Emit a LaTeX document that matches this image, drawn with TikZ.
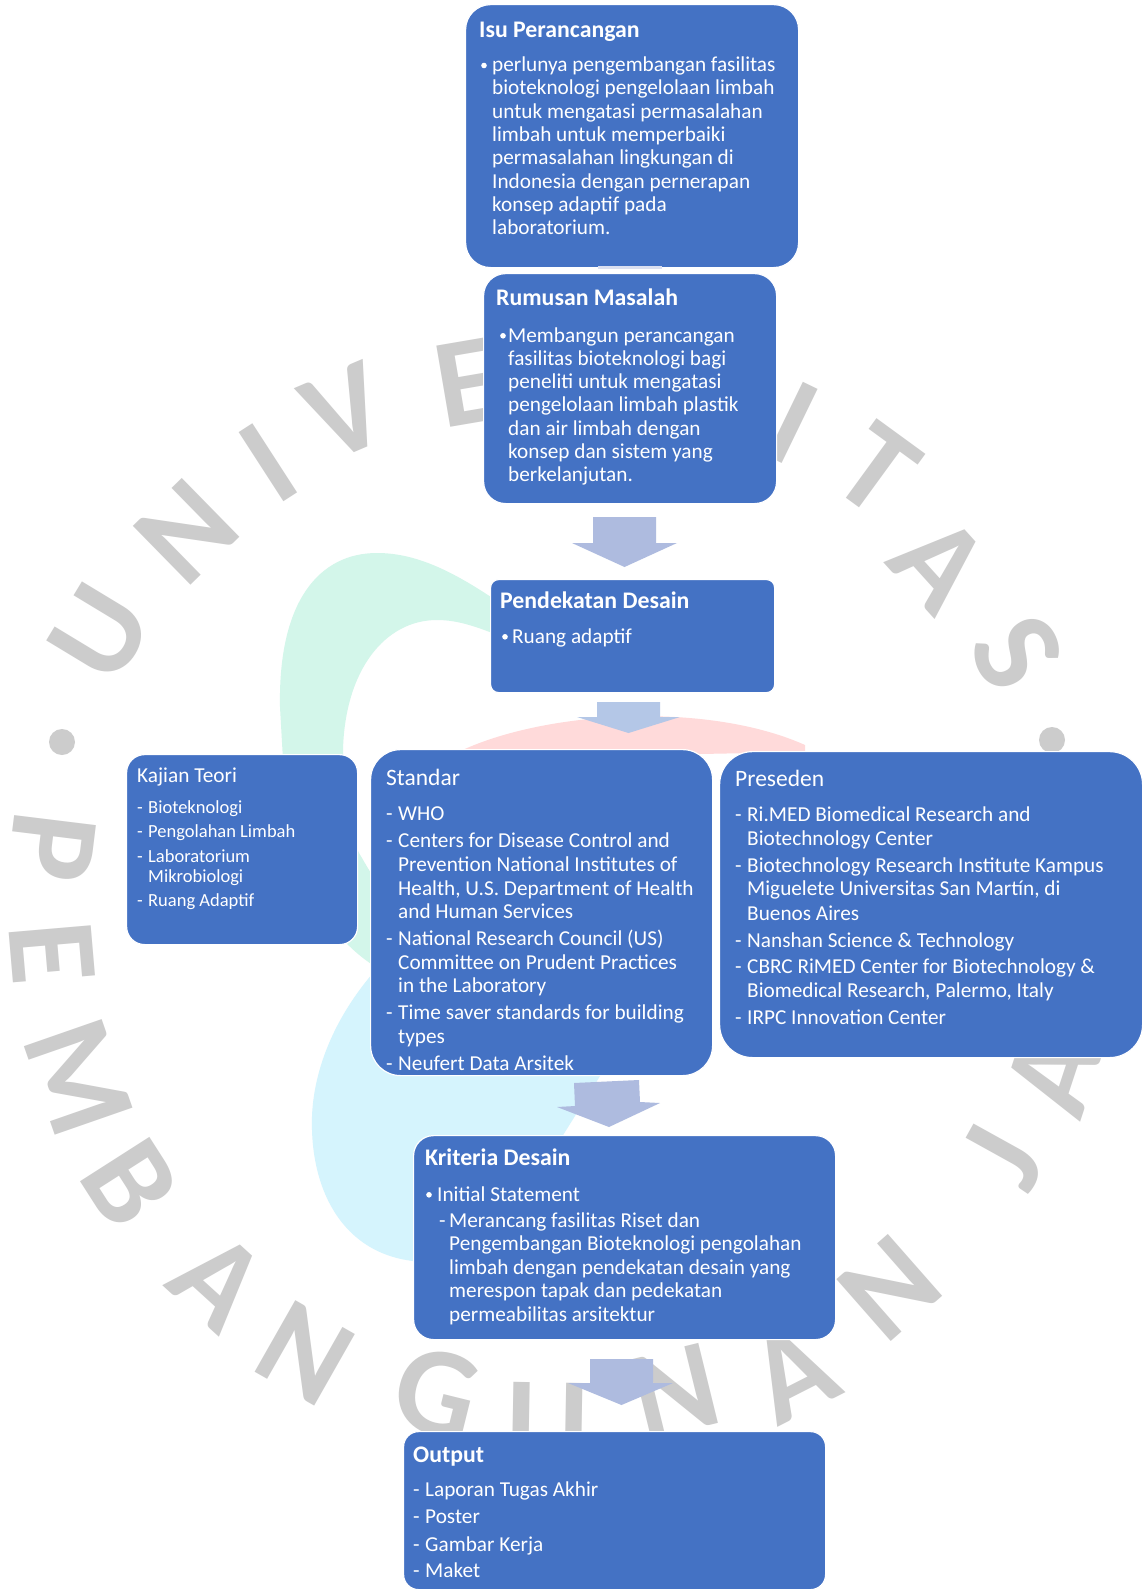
\documentclass[tikz,border=0pt]{standalone}
\usepackage{fontspec}
\setmainfont{Carlito}
\usetikzlibrary{calc}
\definecolor{boxblue}{HTML}{4472C4}
\definecolor{arrowA}{HTML}{AEBBDF}
\definecolor{arrowB}{HTML}{B4C7E7}
\definecolor{wmgray}{HTML}{CCCCCC}
\definecolor{mintc}{HTML}{D3F6EA}
\definecolor{pinkc}{HTML}{FFDADA}
\definecolor{cyanc}{HTML}{D5F4FD}
\begin{document}
\begin{tikzpicture}[x=1pt,y=-1pt,
  box/.style={fill=boxblue, draw=white, line width=1.2pt, anchor=north west, inner sep=0pt},
  ttl/.style={text=white, anchor=base west, inner sep=0pt, font=\fontsize{23.8}{28}\selectfont\bfseries},
  ttlr/.style={text=white, anchor=base west, inner sep=0pt, font=\fontsize{23.5}{28}\selectfont},
  txt/.style={text=white, anchor=base west, inner sep=0pt, font=\fontsize{21.25}{25}\selectfont},
  stxt/.style={text=white, anchor=base west, inner sep=0pt, font=\fontsize{18.5}{22}\selectfont},
  sttl/.style={text=white, anchor=base west, inner sep=0pt, font=\fontsize{21.3}{25}\selectfont},
  bul/.style={fill=white},
  wm/.style={text=wmgray, inner sep=0pt, font=\fontsize{127}{127}\selectfont\bfseries}
]
\useasboundingbox (0,0) rectangle (1144,1595);
\fill[white] (0,0) rectangle (1144,1595);

% ---------- watermark logo ----------
\fill[mintc] (283,760) -- (280,707) .. controls (278,600) and (320,553) .. (377,553)
  .. controls (420,553) and (460,575) .. (510,610) -- (510,640)
  .. controls (480,628) and (460,620) .. (437,620)
  .. controls (385,620) and (345,670) .. (343,750)
  .. controls (343,800) and (350,840) .. (362,858)
  .. controls (380,890) and (410,930) .. (430,960)
  -- (390,975) .. controls (320,940) and (285,860) .. (283,760) -- cycle;
\fill[pinkc] (440,762) .. controls (520,712) and (700,698) .. (805,745) -- (805,752) -- (700,754) -- (440,762) -- cycle;
\fill[cyanc] (380,965) .. controls (330,1020) and (310,1080) .. (312,1130)
  .. controls (314,1200) and (350,1262) .. (430,1262) -- (520,1250) -- (560,1140) -- (600,1076) -- (480,1076) -- cycle;

% ---------- watermark letters ----------
\node[wm, rotate=58.8] (wU) at (100,633) {U};
\node[wm, rotate=44.4] (wN) at (187,532) {N};
\node[wm, rotate=32.9] (wI) at (268,463) {I};
\node[wm, rotate=23.1] (wV) at (345,412) {V};
\node[wm, rotate=9.7] (wE) at (467,383) {E};
\node[wm, rotate=-25.9] (wI2) at (793,423) {I};
\node[wm, rotate=-36.1] (wT) at (877,470) {T};
\node[wm, rotate=-47.9] (wA) at (940,563) {A};
\node[wm, rotate=-60.9] (wS2) at (1017,653) {S};
\fill[wmgray] (62,742) circle (13pt);
\fill[wmgray] (1052,740) circle (13pt);
\node[wm, rotate=263] (wP) at (52,847) {P};
\node[wm, rotate=274.9] (wE2) at (52,953) {E};
\node[wm, rotate=289.2] (wM) at (79,1077) {M};
\node[wm, rotate=302.6] (wB) at (130,1183) {B};
\node[wm, rotate=317.7] (wA2) at (219,1281) {A};
\node[wm, rotate=330.4] (wN2) at (305,1353) {N};
\node[wm, rotate=346.1] (wG) at (437,1393) {G};
\node[wm, rotate=359] (wU2) at (548,1424) {U};
\node[wm, rotate=13.8] (wN3) at (675,1392) {N};
\node[wm, rotate=27] (wA3) at (793,1373) {A};
\node[wm, rotate=41.3] (wN4) at (890,1288) {N};
\node[wm, rotate=61] (wJ) at (1003,1157) {J};
\node[wm, rotate=71.8] (wA4) at (1053,1073) {A};

% ---------- boxes ----------
\node[box, rounded corners=25pt, minimum width=333pt, minimum height=263pt] (isu) at (465,4) {};
\node[box, rounded corners=22pt, minimum width=293pt, minimum height=230pt] (rum) at (483,273) {};
\node[box, rounded corners=8pt, minimum width=284pt, minimum height=113pt] (pend) at (490,579) {};
\node[box, rounded corners=18pt, minimum width=231pt, minimum height=190pt] (kaj) at (126,754) {};
\node[box, rounded corners=30pt, minimum width=342pt, minimum height=326pt] (std) at (370,749) {};
\node[box, rounded corners=33pt, minimum width=423pt, minimum height=306pt] (pre) at (719,751) {};
\node[box, rounded corners=20pt, minimum width=422pt, minimum height=204pt] (kri) at (413,1135) {};
\node[box, rounded corners=15pt, minimum width=422pt, minimum height=158pt] (out) at (403,1431) {};

% ---------- block arrows ----------
\fill[arrowA!45] (598,266) rectangle (662,269);
\fill[arrowA] (593,517) -- (656,517) -- (656,543) -- (677,543) -- (624.5,567) -- (572,543) -- (593,543) -- cycle;
\fill[arrowB] (597,702) -- (660,702) -- (660,717) -- (680,717) -- (628.5,733) -- (577,717) -- (597,717) -- cycle;
\fill[arrowA] (574,1083) -- (639,1080) -- (640,1102) -- (660,1103) -- (609,1127) -- (557,1107) -- (575,1106) -- cycle;
\fill[arrowA] (590,1359) -- (653,1359) -- (653,1383) -- (673,1383) -- (621.5,1405) -- (568,1383) -- (590,1383) -- cycle;

% ---------- Isu Perancangan ----------
\node[ttl] (isuT) at (479,38) {Isu Perancangan};
\fill[bul] (484,65.5) circle (2.8pt);
\foreach \lin [count=\i from 0] in {perlunya pengembangan fasilitas, bioteknologi pengelolaan limbah, untuk mengatasi permasalahan, limbah untuk memperbaiki, permasalahan lingkungan di, Indonesia dengan pernerapan, konsep adaptif pada, laboratorium.}
  \node[txt] (isu-\i) at (492,71.7+23.3*\i) {\lin};

% ---------- Rumusan Masalah ----------
\node[ttl] (rumT) at (496,305) {Rumusan Masalah};
\fill[bul] (503,335.8) circle (2.8pt);
\foreach \lin [count=\i from 0] in {Membangun perancangan, fasilitas bioteknologi bagi, peneliti untuk mengatasi, pengelolaan limbah plastik, dan air limbah dengan, konsep dan sistem yang, berkelanjutan.}
  \node[txt] (rum-\i) at (508,342+23.3*\i) {\lin};

% ---------- Pendekatan Desain ----------
\node[ttl] (pendT) at (500,608) {Pendekatan Desain};
\fill[bul] (505,636.8) circle (2.8pt);
\node[txt] (pend-0) at (512,643) {Ruang adaptif};

% ---------- Kajian Teori ----------
\node[sttl] (kajT) at (137,782) {Kajian Teori};
\node[stxt] (kajD1) at (137,813) {-};
\node[stxt] (kaj1) at (148,813) {Bioteknologi};
\node[stxt] (kajD2) at (137,837) {-};
\node[stxt] (kaj2) at (148,837) {Pengolahan Limbah};
\node[stxt] (kajD3) at (137,862) {-};
\node[stxt] (kaj3) at (148,862) {Laboratorium};
\node[stxt] (kaj3b) at (148,882) {Mikrobiologi};
\node[stxt] (kajD4) at (137,906) {-};
\node[stxt] (kaj4) at (148,906) {Ruang Adaptif};

% ---------- Standar ----------
\node[ttlr] (stdT) at (386,785) {Standar};
\node[txt] (stdD1) at (386,820) {-};
\node[txt] (std1) at (398,820) {WHO};
\node[txt] (stdD2) at (386,847) {-};
\node[txt] (std2) at (398,847) {Centers for Disease Control and};
\node[txt] (std2b) at (398,871) {Prevention National Institutes of};
\node[txt] (std2c) at (398,895) {Health, U.S. Department of Health};
\node[txt] (std2d) at (398,918) {and Human Services};
\node[txt] (stdD3) at (386,945) {-};
\node[txt] (std3) at (398,945) {National Research Council (US)};
\node[txt] (std3b) at (398,969) {Committee on Prudent Practices};
\node[txt] (std3c) at (398,992) {in the Laboratory};
\node[txt] (stdD4) at (386,1019) {-};
\node[txt] (std4) at (398,1019) {Time saver standards for building};
\node[txt] (std4b) at (398,1043) {types};
\node[txt] (stdD5) at (386,1070) {-};
\node[txt] (std5) at (398,1070) {Neufert Data Arsitek};

% ---------- Preseden ----------
\node[ttlr] (preT) at (735,786) {Preseden};
\node[txt] (preD1) at (735,821) {-};
\node[txt] (pre1) at (747,821) {Ri.MED Biomedical Research and};
\node[txt] (pre1b) at (747,845) {Biotechnology Center};
\node[txt] (preD2) at (735,872) {-};
\node[txt] (pre2) at (747,872) {Biotechnology Research Institute Kampus};
\node[txt] (pre2b) at (747,895) {Miguelete Universitas San Martín, di};
\node[txt] (pre2c) at (747,920) {Buenos Aires};
\node[txt] (preD3) at (735,947) {-};
\node[txt] (pre3) at (747,947) {Nanshan Science \& Technology};
\node[txt] (preD4) at (735,973) {-};
\node[txt] (pre4) at (747,973) {CBRC RiMED Center for Biotechnology \&};
\node[txt] (pre4b) at (747,997) {Biomedical Research, Palermo, Italy};
\node[txt] (preD5) at (735,1024) {-};
\node[txt] (pre5) at (747,1024) {IRPC Innovation Center};

% ---------- Kriteria Desain ----------
\node[ttl] (kriT) at (425,1165) {Kriteria Desain};
\fill[bul] (429,1194.8) circle (2.8pt);
\node[txt] (kri0) at (437,1201) {Initial Statement};
\node[txt] (kriD) at (439,1227) {-};
\foreach \lin [count=\i from 0] in {Merancang fasilitas Riset dan, Pengembangan Bioteknologi pengolahan, limbah dengan pendekatan desain yang, merespon tapak dan pedekatan, permeabilitas arsitektur}
  \node[txt] (kri-\i) at (449,1227+23.5*\i) {\lin};

% ---------- Output ----------
\node[ttl] (outT) at (413,1462) {Output};
\node[txt] (outD1) at (413,1496) {-};
\node[txt] (out1) at (425,1496) {Laporan Tugas Akhir};
\node[txt] (outD2) at (413,1523) {-};
\node[txt] (out2) at (425,1523) {Poster};
\node[txt] (outD3) at (413,1551) {-};
\node[txt] (out3) at (425,1551) {Gambar Kerja};
\node[txt] (outD4) at (413,1577) {-};
\node[txt] (out4) at (425,1577) {Maket};
\end{tikzpicture}
\end{document}
